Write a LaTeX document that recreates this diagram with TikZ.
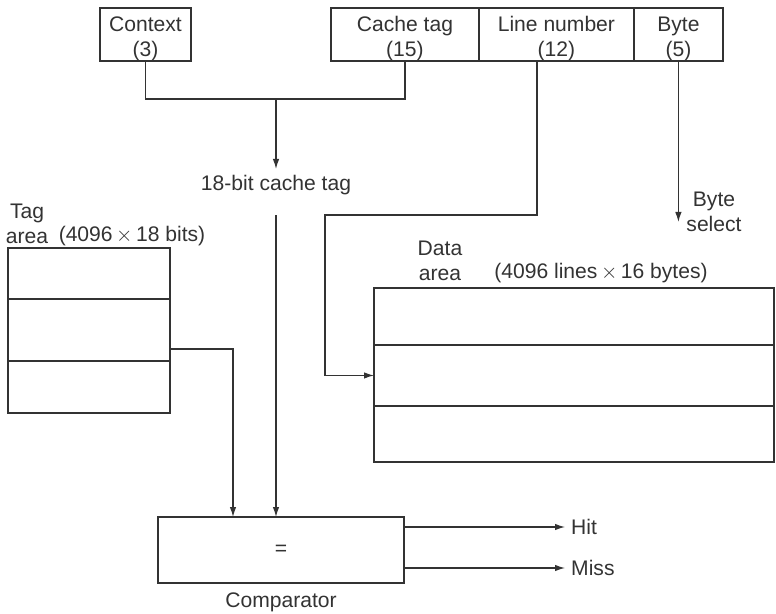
\documentclass[tikz,border=0pt]{standalone}
\usepackage{fontspec}
\setmainfont{Liberation Sans}
\usetikzlibrary{positioning,arrows.meta,calc}
\definecolor{ink}{HTML}{333333}
\tikzset{
  every node/.style={font=\fontsize{12}{14.2}\selectfont, text=ink},
  field/.style={
    rectangle, draw=ink, line width=0.7pt,
    outer sep=0pt, inner sep=0pt,
    minimum height=1.02cm, align=center,
    text height=27.8pt
  },
  slot/.style={
    rectangle, draw=ink, line width=0.7pt,
    outer sep=0pt, inner sep=0pt
  },
  tagslot/.style={slot, minimum width=3.24cm},
  dataslot/.style={slot, minimum width=8.0cm},
  wire/.style={draw=ink, line width=0.7pt},
  arrow/.style={-{Latex[length=2mm,width=1.3mm]}, wire},
  caption/.style={align=center},
}
\begin{document}
\begin{tikzpicture}[x=0.02cm, y=-0.02cm]
  \useasboundingbox (0,0) rectangle (776,614);

  \node[field, minimum width=1.82cm] (ctx) at (145.5,34.5) {Context\\(3)};
  \node[field, minimum width=2.96cm, right=2.8cm of ctx] (ctag) {Cache tag\\(15)};
  \node[field, minimum width=3.1cm, right=0pt of ctag] (lnum) {Line number\\(12)};
  \node[field, minimum width=1.78cm, right=0pt of lnum] (byte) {Byte\\(5)};

  \node[tagslot, minimum height=1.02cm, anchor=north west] (trow1) at (8,248) {};
  \node[tagslot, minimum height=1.24cm, below=0pt of trow1] (trow2) {};
  \node[tagslot, minimum height=1.04cm, below=0pt of trow2] (trow3) {};

  \node[dataslot, minimum height=1.14cm, anchor=north west] (drow1) at (374,288) {};
  \node[dataslot, minimum height=1.22cm, below=0pt of drow1] (drow2) {};
  \node[dataslot, minimum height=1.12cm, below=0pt of drow2] (drow3) {};

  \node[slot, minimum width=4.92cm, minimum height=1.32cm] (cmp) at (281,550) {=};
  \node[caption, below=2pt of cmp] (cmplbl) {Comparator};

  \node[caption] (taglbl) at (27,224) {Tag\\area};
  \node[caption] (tagsize) at (132,236) {(4096\,$\times$\,18 bits)};
  \node[caption] (datalbl) at (440,261) {Data\\area};
  \node[caption] (datasize) at (601,273) {(4096 lines\,$\times$\,16 bytes)};
  \node[caption] (tagbits) at (276,185) {18-bit cache tag};
  \node[caption] (bytelbl) at (714,212) {Byte\\select};
  \node[anchor=west] (hitlbl) at (565,527) {Hit};
  \node[anchor=west] (misslbl) at (565,568) {Miss};

  \coordinate (join) at (276,99);
  \coordinate[below=0.28cm of tagbits] (tagin);
  \coordinate (lnturn) at (325,215);
  \coordinate (bytesel) at (680,222);

  \draw[wire] (ctx.south) |- (join) -| (ctag.south);
  \draw[arrow] (join) -- (tagbits.north);
  \draw[arrow] (tagin) -- (tagin |- cmp.north);
  \draw[arrow] ([xshift=-0.39cm]lnum.south) |- (lnturn) |- (drow2.west);
  \draw[arrow] (byte.south) -- (byte.south |- bytesel);
  \draw[arrow] ([yshift=-0.38cm]trow2.east) -| ([xshift=-0.96cm]cmp.north);
  \draw[arrow] (cmp.east |- hitlbl.west) -- (hitlbl.west);
  \draw[arrow] (cmp.east |- misslbl.west) -- (misslbl.west);
\end{tikzpicture}
\end{document}
